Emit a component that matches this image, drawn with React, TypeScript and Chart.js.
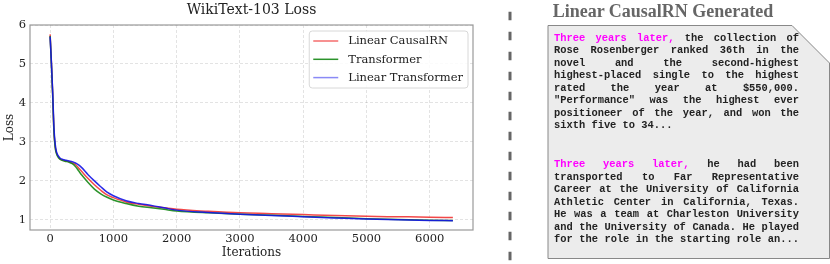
import React, { useEffect, useRef } from "react";
import { Chart, registerables } from "chart.js";

Chart.register(...registerables);

const iterations = [0, 20, 40, 60, 80, 100, 130, 160, 200, 250, 300, 350, 400, 450, 500, 600, 700, 800, 900, 1000, 1200, 1400, 1600, 1800, 2000, 2500, 3000, 3500, 4000, 4500, 5000, 5500, 6000, 6366];
const linearCausalRN = [5.76, 5.05, 4.25, 3.3, 2.88, 2.72, 2.62, 2.56, 2.53, 2.51, 2.49, 2.46, 2.42, 2.33, 2.24, 2.06, 1.9, 1.76, 1.64, 1.57, 1.46, 1.4, 1.35, 1.31, 1.27, 1.22, 1.18, 1.16, 1.135, 1.11, 1.09, 1.08, 1.07, 1.06];
const transformer = [5.72, 5.0, 4.2, 3.27, 2.86, 2.7, 2.6, 2.55, 2.52, 2.5, 2.48, 2.44, 2.37, 2.26, 2.15, 1.96, 1.79, 1.67, 1.58, 1.51, 1.42, 1.35, 1.31, 1.27, 1.23, 1.18, 1.145, 1.12, 1.085, 1.06, 1.03, 1.01, 0.99, 0.985];
const linearTransformer = [5.7, 5.05, 4.3, 3.38, 2.95, 2.75, 2.64, 2.58, 2.55, 2.53, 2.51, 2.49, 2.46, 2.41, 2.34, 2.16, 2.0, 1.85, 1.71, 1.62, 1.49, 1.42, 1.37, 1.31, 1.25, 1.19, 1.145, 1.11, 1.08, 1.05, 1.02, 1.0, 0.985, 0.98];

const seriesLabels = ["Linear CausalRN", "Transformer", "Linear Transformer"];
const xTickValues = [0, 1000, 2000, 3000, 4000, 5000, 6000];
const yTickValues = [1, 2, 3, 4, 5, 6];

const chartTitle = "WikiText-103 Loss";
const xTitle = "Iterations";
const yTitle = "Loss";

const panelTitle = "Linear CausalRN Generated";
const prompt = "Three years later,";
const para1 = [
  " the collection of",
  "Rose Rosenberger ranked 36th in the",
  "novel and the second-highest",
  "highest-placed single to the highest",
  "rated the year at $550,000.",
  "\"Performance\" was the highest ever",
  "positioneer of the year, and won the",
  "sixth five to 34...",
];
const para2 = [
  " he had been",
  "transported to Far Representative",
  "Career at the University of California",
  "Athletic Center in California, Texas.",
  "He was a team at Charleston University",
  "and the University of Canada. He played",
  "for the role in the starting role an...",
];

const SERIF = '"DejaVu Serif", serif';

const decorPlugin = {
  id: "decor",
  beforeDatasetsDraw(chart: any) {
    const { ctx, chartArea: a } = chart;
    ctx.save();
    ctx.strokeStyle = "#999";
    ctx.lineWidth = 1.2;
    ctx.strokeRect(a.left, a.top, a.right - a.left, a.bottom - a.top);
    ctx.restore();
  },
  afterDraw(chart: any) {
    const { ctx, chartArea: a } = chart;
    const ds = chart.data.datasets;
    ctx.save();
    ctx.font = `11.5px ${SERIF}`;
    let maxW = 0;
    ds.forEach((d: any) => {
      maxW = Math.max(maxW, ctx.measureText(d.label).width);
    });
    const w = maxW + 44;
    const h = 57;
    const right = a.right - 5;
    const left = right - w;
    const top = a.top + 6;
    ctx.beginPath();
    const r = 3;
    ctx.moveTo(left + r, top);
    ctx.lineTo(left + w - r, top);
    ctx.quadraticCurveTo(left + w, top, left + w, top + r);
    ctx.lineTo(left + w, top + h - r);
    ctx.quadraticCurveTo(left + w, top + h, left + w - r, top + h);
    ctx.lineTo(left + r, top + h);
    ctx.quadraticCurveTo(left, top + h, left, top + h - r);
    ctx.lineTo(left, top + r);
    ctx.quadraticCurveTo(left, top, left + r, top);
    ctx.closePath();
    ctx.fillStyle = "rgba(255,255,255,0.85)";
    ctx.fill();
    ctx.strokeStyle = "#d8d8d8";
    ctx.lineWidth = 1;
    ctx.stroke();
    ds.forEach((d: any, i: number) => {
      const y = top + 10 + i * 18.3;
      ctx.strokeStyle = d.legendColor || d.borderColor;
      ctx.lineWidth = 1.5;
      ctx.beginPath();
      ctx.moveTo(left + 4, y);
      ctx.lineTo(left + 29, y);
      ctx.stroke();
      ctx.fillStyle = "#222";
      ctx.textBaseline = "middle";
      ctx.textAlign = "left";
      ctx.fillText(d.label, left + 39, y + 0.5);
    });
    ctx.restore();
  },
};

function LossChart() {
  const ref = useRef<HTMLCanvasElement | null>(null);
  useEffect(() => {
    if (!ref.current) return;
    const mk = (vals: number[]) => iterations.map((x, i) => ({ x, y: vals[i] }));
    const chart = new Chart(ref.current, {
      type: "line",
      data: {
        datasets: [
          {
            label: seriesLabels[0],
            data: mk(linearCausalRN),
            borderColor: "rgba(240,40,40,0.85)",
            legendColor: "rgba(240,60,60,0.75)",
            borderWidth: 1.5,
            pointRadius: 0,
            cubicInterpolationMode: "monotone",
            order: 2,
          } as any,
          {
            label: seriesLabels[1],
            data: mk(transformer),
            borderColor: "rgba(20,135,20,0.9)",
            borderWidth: 1.5,
            pointRadius: 0,
            cubicInterpolationMode: "monotone",
            order: 1,
          } as any,
          {
            label: seriesLabels[2],
            data: mk(linearTransformer),
            borderColor: "rgba(20,20,230,0.9)",
            legendColor: "rgba(60,60,240,0.6)",
            borderWidth: 1.5,
            pointRadius: 0,
            cubicInterpolationMode: "monotone",
            order: 0,
          } as any,
        ],
      },
      options: {
        animation: false,
        responsive: false,
        devicePixelRatio: 1,
        layout: { padding: { left: 0, right: 17, top: 0, bottom: 0 } },
        plugins: {
          legend: { display: false },
          tooltip: { enabled: false },
          title: {
            display: true,
            text: chartTitle,
            fullSize: false,
            color: "#222",
            font: { family: SERIF, size: 14, weight: "normal" },
            padding: { top: 2, bottom: 6.2 },
          },
        },
        scales: {
          x: {
            type: "linear",
            min: -318,
            max: 6684,
            afterBuildTicks: (s: any) => {
              s.ticks = xTickValues.map((v) => ({ value: v }));
            },
            afterFit: (s: any) => {
              s.height = 34;
            },
            ticks: {
              color: "#222",
              font: { family: SERIF, size: 11.5 },
              padding: 2,
              maxRotation: 0,
              callback: (v: any) => String(v),
            },
            grid: { color: "rgba(0,0,0,0.11)", drawTicks: false, lineWidth: 1 },
            border: { display: false, dash: [3, 2] },
            title: {
              display: true,
              text: xTitle,
              color: "#222",
              font: { family: SERIF, size: 12 },
              padding: { top: 0, bottom: 3.8 },
            },
          },
          y: {
            type: "linear",
            min: 0.74,
            max: 6.0,
            afterBuildTicks: (s: any) => {
              s.ticks = yTickValues.map((v) => ({ value: v }));
            },
            afterFit: (s: any) => {
              s.width = 30;
            },
            ticks: {
              color: "#222",
              font: { family: SERIF, size: 11.5 },
              padding: 4,
              callback: (v: any) => String(v),
            },
            grid: { color: "rgba(0,0,0,0.11)", drawTicks: false, lineWidth: 1 },
            border: { display: false, dash: [3, 2] },
            title: {
              display: true,
              text: yTitle,
              color: "#222",
              font: { family: SERIF, size: 12 },
              padding: { top: 3, bottom: 0 },
            },
          },
        },
      } as any,
      plugins: [decorPlugin],
    });
    return () => chart.destroy();
  }, []);
  return (
    <canvas
      ref={ref}
      width={490}
      height={264}
      style={{ position: "absolute", left: 0, top: 0, width: 490, height: 264, display: "block" }}
    />
  );
}

function TextLine({ text, justify, magenta }: { text: string; justify: boolean; magenta?: string }) {
  return (
    <div
      style={{
        textAlign: justify ? "justify" : "left",
        textAlignLast: justify ? "justify" : "left",
        height: 12.5,
      }}
    >
      {magenta ? <span style={{ color: "#ff00ff" }}>{magenta}</span> : null}
      {text}
    </div>
  );
}

export default function App() {
  return (
    <div style={{ position: "absolute", left: 0, top: 0, width: 830, height: 264, background: "#fff", overflow: "hidden" }}>
      <LossChart />
      <svg width={830} height={264} style={{ position: "absolute", left: 0, top: 0 }}>
        <line x1={510} y1={11.7} x2={510} y2={264} stroke="#666" strokeWidth={3} strokeDasharray="8.5 11.5" />
        <polygon points="548,25.5 792,25.5 829.5,63 829.5,258.5 548,258.5" fill="#ececec" stroke="#888" strokeWidth={1} />
      </svg>
      <div
        style={{
          position: "absolute",
          left: 548,
          width: 230,
          top: 1.5,
          textAlign: "center",
          fontFamily: '"Liberation Serif", serif',
          fontWeight: "bold",
          fontSize: 18,
          lineHeight: "18px",
          color: "#666",
          whiteSpace: "nowrap",
        }}
      >
        {panelTitle}
      </div>
      <div
        style={{
          position: "absolute",
          left: 554,
          top: 31.5,
          width: 245,
          fontFamily: '"Liberation Mono", monospace',
          fontWeight: "bold",
          fontSize: 10.4,
          lineHeight: "12.5px",
          color: "#222",
        }}
      >
        {para1.map((t, i) => (
          <TextLine key={"a" + i} text={t} justify={i < para1.length - 1} magenta={i === 0 ? prompt : undefined} />
        ))}
        <div style={{ height: 26.5 }} />
        {para2.map((t, i) => (
          <TextLine key={"b" + i} text={t} justify={true} magenta={i === 0 ? prompt : undefined} />
        ))}
      </div>
    </div>
  );
}
